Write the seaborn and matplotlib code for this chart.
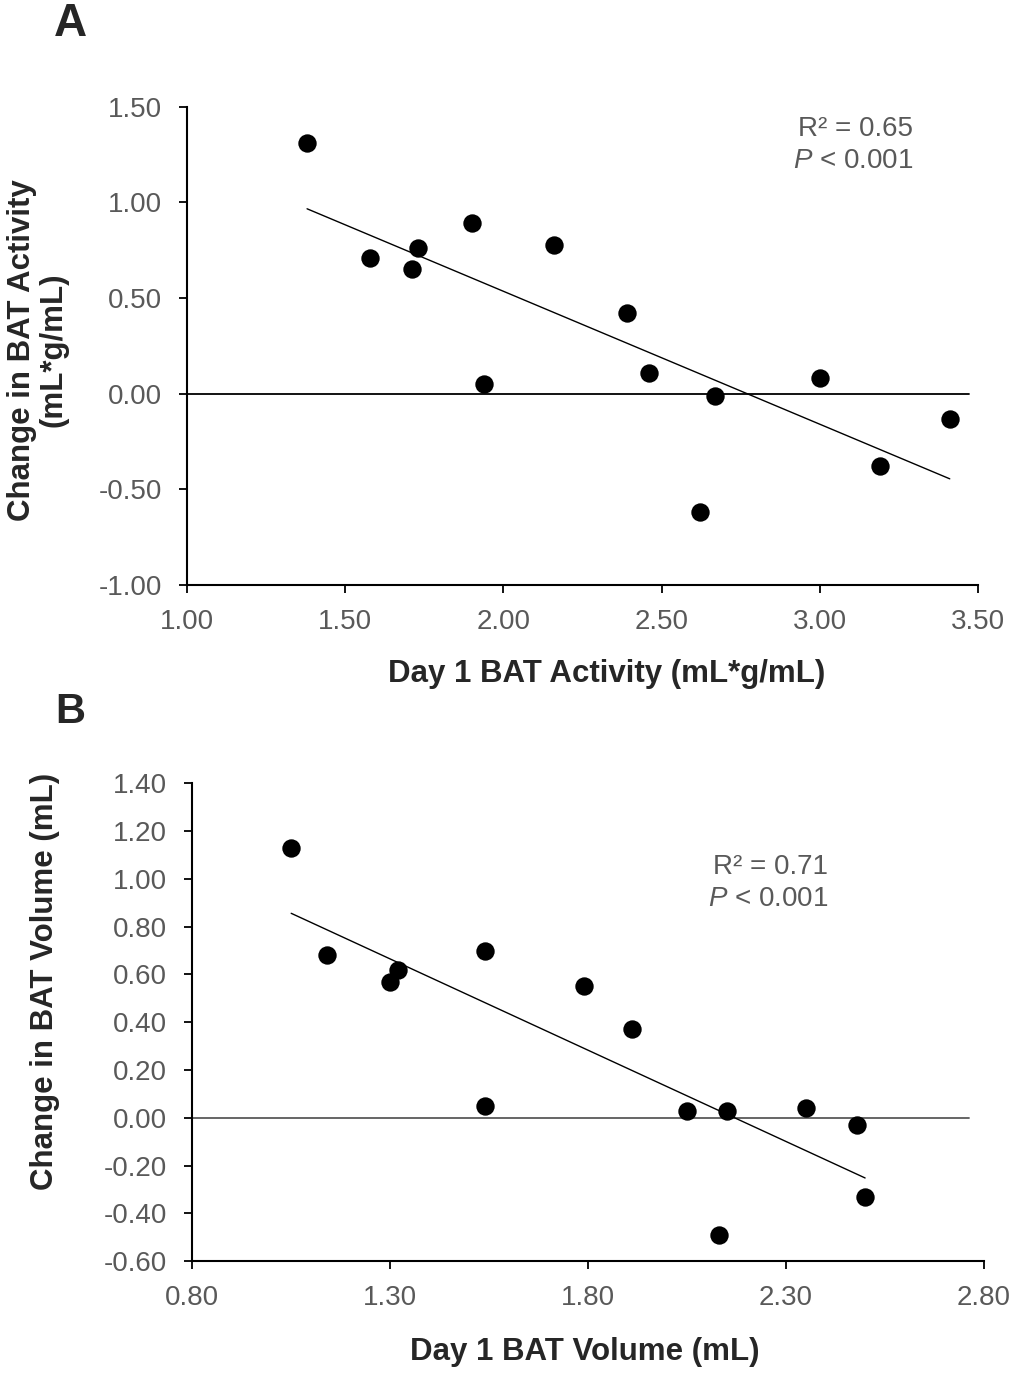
import numpy as np
import pandas as pd
import matplotlib
matplotlib.use("Agg")
import matplotlib.pyplot as plt
import seaborn as sns


# ==========================================
# DATA
# ==========================================

day1_activity = [1.38, 1.58, 1.71, 1.73, 1.90, 1.94, 2.16,
                 2.39, 2.46, 2.62, 2.67, 3.00, 3.19, 3.41]
change_activity = [1.31, 0.71, 0.65, 0.76, 0.89, 0.05, 0.78,
                   0.42, 0.11, -0.62, -0.01, 0.08, -0.38, -0.13]

day1_volume = [1.05, 1.14, 1.30, 1.32, 1.54, 1.54, 1.79,
               1.91, 2.05, 2.13, 2.15, 2.35, 2.48, 2.50]
change_volume = [1.13, 0.68, 0.57, 0.62, 0.70, 0.05, 0.55,
                 0.37, 0.03, -0.49, 0.03, 0.04, -0.03, -0.33]

ticks_a_x = [1.00, 1.50, 2.00, 2.50, 3.00, 3.50]
ticks_a_y = [-1.00, -0.50, 0.00, 0.50, 1.00, 1.50]
ticks_b_x = [0.80, 1.30, 1.80, 2.30, 2.80]
ticks_b_y = [-0.60, -0.40, -0.20, 0.00, 0.20, 0.40, 0.60, 0.80, 1.00, 1.20, 1.40]

stats_a = ("R² = 0.65", "< 0.001")
stats_b = ("R² = 0.71", "< 0.001")

df_a = pd.DataFrame({"x": day1_activity, "y": change_activity})
df_b = pd.DataFrame({"x": day1_volume, "y": change_volume})


# ==========================================
# STYLE
# ==========================================

sns.set_style("ticks")
plt.rcParams["font.family"] = ["Liberation Sans", "DejaVu Sans"]
plt.rcParams["mathtext.fontset"] = "custom"
plt.rcParams["mathtext.rm"] = "Liberation Sans"
plt.rcParams["mathtext.it"] = "Liberation Sans:italic"

GREY = "#595959"

fig = plt.figure(figsize=(10.15, 13.74), dpi=100)

ax_a = fig.add_axes([0.1840, 0.5742, 0.7798, 0.3481])
ax_b = fig.add_axes([0.1894, 0.0822, 0.7799, 0.3477])


def draw_panel(ax, df, xticks, yticks, zero_end, zero_color, stats, text_x, text_y):

    sns.regplot(
        data=df, x="x", y="y", ax=ax,
        scatter=False, ci=None, truncate=True,
        line_kws={"color": "black", "linewidth": 1.0},
    )

    sns.scatterplot(
        data=df, x="x", y="y", ax=ax,
        s=175, color="black", linewidth=0, zorder=3,
    )

    ax.plot([xticks[0], zero_end], [0, 0], color=zero_color,
            linewidth=1.3, zorder=1)

    ax.set_xlim(xticks[0], xticks[-1])
    ax.set_ylim(yticks[0], yticks[-1])
    ax.set_xticks(xticks)
    ax.set_yticks(yticks)
    ax.set_xticklabels([f"{v:.2f}" for v in xticks])
    ax.set_yticklabels([f"{v:.2f}" for v in yticks])

    ax.tick_params(axis="both", labelsize=20, labelcolor=GREY,
                   length=6, width=1.3, color="black", direction="out")
    ax.tick_params(axis="x", pad=11)
    ax.tick_params(axis="y", pad=12)

    for side in ["top", "right"]:
        ax.spines[side].set_visible(False)
    for side in ["left", "bottom"]:
        ax.spines[side].set_linewidth(1.5)
        ax.spines[side].set_color("black")

    ax.text(text_x, text_y[0], stats[0], ha="right", va="center",
            fontsize=20, color=GREY)
    ax.text(text_x, text_y[1], r"$\it{P}$ " + stats[1], ha="right",
            va="center", fontsize=20, color=GREY)


# ==========================================
# PANEL A
# ==========================================

draw_panel(ax_a, df_a, ticks_a_x, ticks_a_y, 3.47, "black",
           stats_a, 3.294, (1.385, 1.215))

ax_a.set_xlabel("Day 1 BAT Activity (mL*g/mL)", fontsize=22.5,
                fontweight="bold")
ax_a.set_ylabel("Change in BAT Activity\n(mL*g/mL)", fontsize=22.5,
                fontweight="bold", linespacing=1.05)
ax_a.xaxis.set_label_coords(0.531, -0.155)
ax_a.yaxis.label.set_va("center")
ax_a.yaxis.set_label_coords(-0.188, 0.491)


# ==========================================
# PANEL B
# ==========================================

draw_panel(ax_b, df_b, ticks_b_x, ticks_b_y, 2.762, GREY,
           stats_b, 2.407, (1.050, 0.915))

ax_b.set_xlabel("Day 1 BAT Volume (mL)", fontsize=22.5,
                fontweight="bold")
ax_b.set_ylabel("Change in BAT Volume (mL)", fontsize=22.5,
                fontweight="bold")
ax_b.xaxis.set_label_coords(0.496, -0.159)
ax_b.yaxis.label.set_va("center")
ax_b.yaxis.set_label_coords(-0.186, 0.586)


# ==========================================
# PANEL LETTERS
# ==========================================

fig.text(70 / 1015, 1 - 24 / 1374, "A", fontsize=33, fontweight="bold",
         ha="center", va="center")
fig.text(70 / 1015, 1 - 712 / 1374, "B", fontsize=30, fontweight="bold",
         ha="center", va="center")

fig.savefig("out.png", dpi=100, facecolor="white")
